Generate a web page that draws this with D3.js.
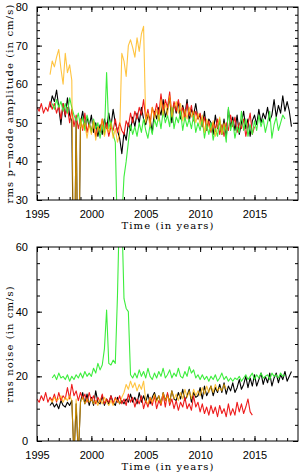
<!DOCTYPE html>
<html>
<head>
<meta charset="utf-8">
<script src="https://cdn.jsdelivr.net/npm/d3@7"></script>
<style>
  body { margin: 0; background: #fff; }
  svg { display: block; }
  .tick text { font-family: "Liberation Sans", Arial, sans-serif; font-size: 11px; fill: #000; }
  .title { font-family: "DejaVu Serif", serif; font-size: 10px; letter-spacing: 1.1px; fill: #000; }
</style>
</head>
<body>
<svg></svg>
<script>
// sampling step of every series (years)
const step = 0.2;

const xTicks = [1995, 2000, 2005, 2010, 2015];

// top panel: rms p-mode amplitude (cm/s)
const ampTicks = [30, 40, 50, 60, 70, 80];
const ampRedStart = 1995.0;
const ampRed = [54, 53, 55, 52.5, 54, 53, 55.5, 53.5, 55, 52.5,
  54.5, 51, 55, 52, 54, 50, 53.5, 49, 52, 48.5,
  51, 48, 52.5, 47.5, 50, 48, 50.5, 46.5, 49, 47.5,
  51, 48, 50, 46.5, 49, 48, 51, 47.5, 50, 48,
  47, 50.5, 49, 52.5, 50, 53, 51, 54, 52, 56,
  51, 53.5, 50, 54, 52, 55, 52, 57.5, 53, 56,
  54, 58, 52, 55.5, 53, 56, 52.5, 54, 51, 55,
  52, 54.5, 50.5, 53, 51, 52.5, 49, 51.5, 48, 50.5,
  47.5, 50, 48.5, 51, 47, 49.5, 46.5, 50, 48, 52,
  49, 51.5, 47.5, 50, 48.5, 51, 46.5, 49.5, 52.5, 47, 49];
const ampBlackStart = 1996.2;
const ampBlack = [54, 57, 55.5, 58.5,
  54, 49.5, 55, 51.5, 56.5, 52, 50.5, 0, 51, 0,
  50, 53, 48.5, 51.5, 49, 52, 47.5, 50, 46.5, 49.5,
  47, 51, 48.5, 52.5, 49, 53.5, 50, 48, 46, 42,
  47.5, 45.5, 50, 48, 51.5, 49, 52.5, 50, 54, 51,
  49.5, 52, 51, 47.5, 53, 51, 54, 52, 56, 51.5,
  53.5, 56.5, 50, 55, 52.5, 55.5, 51, 54.5, 52, 56,
  50.5, 53.5, 52, 55, 51, 52, 49, 53, 48, 51,
  50, 47, 52, 48.5, 50.5, 47, 51, 46, 53.5, 49,
  51.5, 48, 52, 47, 50, 53, 48.5, 51, 46.5, 50.5,
  52, 49.5, 53.5, 50, 52.5, 51, 54, 50.5, 52, 56,
  51.5, 54.5, 52.5, 57, 53, 55.5, 53, 49];
const ampGreenStart = 1996.4;
const ampGreen = [55, 53.5, 56,
  54, 55.5, 53, 55, 52.5, 56.5, 54, 52, 50.5, 52.5,
  49, 51.5, 48, 52, 50, 47.5, 51, 48.5, 50, 46,
  49.5, 47, 63, 48.5, 50.5, 47, 45, 20, 22, 25,
  36, 40, 45, 49.5, 47, 49, 46.5, 50, 47.5, 51,
  48, 46, 49.5, 47, 51, 49, 52, 48.5, 53, 50,
  52, 49, 54, 48.5, 51.5, 50, 53, 48, 51.5, 49,
  51, 48.5, 52, 47.5, 50, 48, 51, 46, 49.5, 47,
  50, 45.5, 48.5, 46.5, 51, 47, 49.5, 45, 54, 48,
  50.5, 46, 49, 47.5, 53, 48, 51, 46.5, 49.5, 47,
  50.5, 48, 52, 49, 51, 47.5, 50, 53, 46, 49.5,
  51.5, 48, 50, 52, 51];
const ampOrangeStart = 1996.2;
const ampOrange = [62.5, 66, 64.5, 67,
  69, 64, 60, 68, 63, 65, 61, 0, 50, 0,
  51, 48.5, 50, 46, 49.5, 47, 50.5, 45.5, 49, 48,
  51, 46.5, 49, 47.5, 50, 46, 48.5, 45, 47, 68,
  66, 62, 70, 71.5, 69.5, 67, 72, 68.5, 73, 75,
  50, 52.5, 49, 54, 51, 53.5, 50.5, 56, 52, 55,
  52, 57, 51.5, 54, 55.5, 52.5, 55, 50.5, 53.5, 51,
  54, 51.5, 53, 50, 52.5, 49.5, 52, 47.5, 51, 49,
  48, 50.5, 46.5, 49, 51.5, 47, 50, 48];

// bottom panel: rms noise (cm/s)
const noiseTicks = [0, 20, 40, 60];
const noiseRedStart = 1995.0;
const noiseRed = [13, 12, 14, 12.5, 15, 12, 13.5, 12.5, 14.5, 12,
  15, 12.5, 14, 13, 16.5, 13, 17.5, 14, 15.5, 12.5,
  15, 13, 14.5, 12, 15, 12.5, 14, 11.5, 13.5, 12,
  14.5, 11.5, 13, 12, 14, 11.5, 13.5, 12, 14, 11.5,
  13, 11, 14.5, 12, 13.5, 10.5, 13, 11.5, 14, 10,
  12.5, 10.5, 13.5, 11, 14, 10, 12.5, 11, 14.5, 10.5,
  15, 11, 13, 10, 12.5, 9.5, 12, 10.5, 13.5, 10,
  11.5, 9.5, 14, 10.5, 12, 9, 11.5, 8.5, 10.5, 8,
  11, 8.5, 10.5, 7.5, 11, 8.5, 10, 7.5, 11.5, 8,
  10, 8, 12, 9, 11.5, 8.5, 10.5, 13, 9, 8];
const noiseBlackStart = 1996.2;
const noiseBlack = [11, 12, 10.5, 11.5,
  10, 12.5, 11, 10.5, 12, 11, 12.5, -5, 11.5, -5,
  12, 15, 11.5, 14.5, 11, 13.5, 11, 15.5, 12, 11.5,
  14, 11, 13, 11.5, 14, 12, 11, 13.5, 11.5, 12.5,
  11.5, 13, 12, 14.5, 12, 13.5, 11.5, 15, 12, 14,
  12, 14.5, 11.5, 13.5, 15, 12.5, 14, 11.5, 15, 12.5,
  14.5, 12, 15.5, 13, 12.5, 15, 13, 16, 12.5, 14,
  16, 12, 15, 13.5, 14, 16.5, 13, 17, 14, 15.5,
  17, 14, 16.5, 15, 17.5, 15, 18, 14.5, 17, 15.5,
  18, 15, 16.5, 19, 16, 17.5, 20, 16.5, 19.5, 17,
  20.5, 17, 19, 21, 17.5, 20, 18, 21, 17, 19.5,
  21, 18, 20.5, 19, 21.5, 18.5, 20, 21.5];
const noiseGreenStart = 1996.4;
const noiseGreen = [19.5, 20.5, 19,
  21, 19.5, 20, 19, 20.5, 18.5, 20, 19, 20.5, 19.5,
  21, 19.5, 21.5, 20, 21, 20, 22.5, 21, 24, 22,
  23.5, 28.5, 40.5, 24, 23.5, 25, 24, 45, 75, 70,
  44, 41, 40, 20.5, 19.5, 21, 19.5, 22, 20, 21.5,
  19.5, 22.5, 20, 19, 21, 19.5, 21.5, 20, 22.5, 19.5,
  20.5, 22, 19.5, 21, 20, 22.5, 20, 19.5, 21.5, 20,
  23, 21, 22, 19.5, 20.5, 19, 20.5, 19, 20, 18.5,
  20, 19, 20.5, 18.5, 19.5, 21, 19, 20, 18.5, 19.5,
  18.5, 19.5, 19, 20, 18.5, 19.5, 20.5, 19, 20, 21,
  19, 20.5, 19.5, 21, 19.5, 20, 20.5, 19, 21, 20,
  20.5, 19.5, 21, 20, 20.5];
const noiseOrangeStart = 1996.2;
const noiseOrange = [13, 12, 13.5, 12.5,
  13, 14, 12, 13.5, 12.5, 14, 12.5, -5, 13, -5,
  12, 13.5, 11.5, 13, 12, 13, 11.5, 12.5, 11, 13,
  11.5, 13.5, 12, 11, 12.5, 11, 13, 12.5, 11.5, 13.5,
  15, 17.5, 16, 18.5, 16.5, 18, 15.5, 17.5, 16, 18.5,
  12.5, 11.5, 13.5, 12, 14.5, 12, 14, 11.5, 15, 12.5,
  14, 12, 15.5, 13, 14.5, 12.5, 15, 13, 16, 13.5,
  15.5, 13, 16, 14, 15.5, 14, 16.5, 14.5, 17, 15,
  17, 15, 17.5, 15.5, 16.5, 15.5, 17.5, 16];

const colors = { black: '#000000', red: '#ee1b1b', green: '#3ded3d', orange: '#ffb000' };

const width = 301, height = 473;
const svg = d3.select('svg').attr('width', width).attr('height', height);

const x = d3.scaleLinear().domain([1995, 2019]).range([37, 298]);

function drawPanel(id, top, bottom, yDomain, yTicks, yMinor, title, series) {
  const y = d3.scaleLinear().domain(yDomain).range([bottom, top]);
  const g = svg.append('g');

  g.append('clipPath').attr('id', 'clip-' + id)
    .append('rect').attr('x', x.range()[0]).attr('y', top)
    .attr('width', x.range()[1] - x.range()[0]).attr('height', bottom - top);

  const lines = g.append('g').attr('clip-path', `url(#clip-${id})`);
  series.forEach((s) => {
    const line = d3.line()
      .x((d, i) => x(s.start + i * step))
      .y((d) => y(d));
    lines.append('path')
      .datum(s.values)
      .attr('d', line)
      .attr('fill', 'none')
      .attr('stroke', colors[s.color])
      .attr('stroke-opacity', s.color === 'orange' ? 0.75 : 1)
      .attr('stroke-width', 1.1)
      .attr('stroke-linejoin', 'round');
  });

  // frame
  g.append('rect')
    .attr('x', x.range()[0]).attr('y', top)
    .attr('width', x.range()[1] - x.range()[0]).attr('height', bottom - top)
    .attr('fill', 'none').attr('stroke', '#000').attr('stroke-width', 1);

  const xMinor = d3.range(1996, 2019);
  const yMinorVals = d3.range(yDomain[0], yDomain[1] + 0.01, yMinor);

  // bottom axis with labels
  g.append('g').attr('transform', `translate(0,${bottom})`)
    .call(d3.axisBottom(x).tickValues(xTicks).tickFormat(d3.format('d')).tickSize(-5).tickPadding(10));
  g.append('g').attr('transform', `translate(0,${bottom})`)
    .call(d3.axisBottom(x).tickValues(xMinor).tickFormat('').tickSize(-3));
  // top axis, ticks only
  g.append('g').attr('transform', `translate(0,${top})`)
    .call(d3.axisTop(x).tickValues(xTicks).tickFormat('').tickSize(-5));
  g.append('g').attr('transform', `translate(0,${top})`)
    .call(d3.axisTop(x).tickValues(xMinor).tickFormat('').tickSize(-3));
  // left axis with labels
  g.append('g').attr('transform', `translate(${x.range()[0]},0)`)
    .call(d3.axisLeft(y).tickValues(yTicks).tickFormat(d3.format('d')).tickSize(-5).tickPadding(9));
  g.append('g').attr('transform', `translate(${x.range()[0]},0)`)
    .call(d3.axisLeft(y).tickValues(yMinorVals).tickFormat('').tickSize(-3));
  // right axis, ticks only
  g.append('g').attr('transform', `translate(${x.range()[1]},0)`)
    .call(d3.axisRight(y).tickValues(yTicks).tickFormat('').tickSize(-5));
  g.append('g').attr('transform', `translate(${x.range()[1]},0)`)
    .call(d3.axisRight(y).tickValues(yMinorVals).tickFormat('').tickSize(-3));

  g.selectAll('.domain').remove();
  g.selectAll('.tick line').attr('stroke', '#000');

  g.append('text').attr('class', 'title')
    .attr('x', 168)
    .attr('y', bottom + 29)
    .attr('text-anchor', 'middle')
    .text('Time (in years)');

  g.append('text').attr('class', 'title')
    .attr('transform', `translate(13,${(top + bottom) / 2}) rotate(-90)`)
    .attr('text-anchor', 'middle')
    .text(title);
}

drawPanel('amp', 7, 200, [30, 80], ampTicks, 2, 'rms p\u2212mode amplitude (in cm/s)', [
  { color: 'black', start: ampBlackStart, values: ampBlack },
  { color: 'red', start: ampRedStart, values: ampRed },
  { color: 'green', start: ampGreenStart, values: ampGreen },
  { color: 'orange', start: ampOrangeStart, values: ampOrange },
]);

drawPanel('noise', 247, 441, [0, 60], noiseTicks, 5, 'rms noise (in cm/s)', [
  { color: 'black', start: noiseBlackStart, values: noiseBlack },
  { color: 'red', start: noiseRedStart, values: noiseRed },
  { color: 'green', start: noiseGreenStart, values: noiseGreen },
  { color: 'orange', start: noiseOrangeStart, values: noiseOrange },
]);
</script>
</body>
</html>
